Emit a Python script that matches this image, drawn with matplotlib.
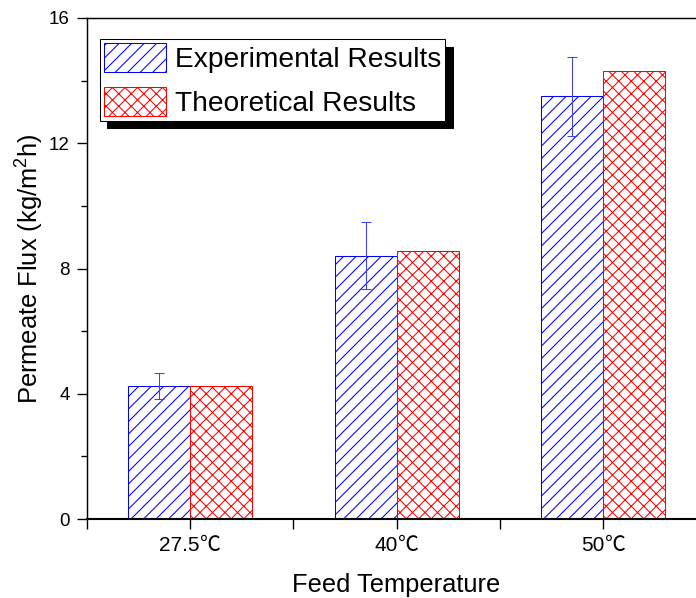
import numpy as np
import matplotlib
matplotlib.use('Agg')
import matplotlib.pyplot as plt
from matplotlib.ticker import MultipleLocator, FixedLocator, NullFormatter
from matplotlib.offsetbox import TextArea, HPacker, AnnotationBbox

plt.rcParams['font.family'] = ['Liberation Sans']
plt.rcParams['mathtext.fontset'] = 'custom'
plt.rcParams['mathtext.rm'] = 'Liberation Sans'
plt.rcParams['hatch.linewidth'] = 1.0

# data
temps = ['27.5', '40', '50']
unit = '℃'
experimental = [4.25, 8.4, 13.5]
exp_err = [0.42, 1.07, 1.26]
theoretical = [4.25, 8.55, 14.3]

DPI = 75
fig = plt.figure(figsize=(696 / DPI, 598 / DPI), dpi=DPI)
ax = fig.add_axes([0.1246, 0.1321, 0.8909, 0.8378])

x = np.arange(1, len(temps) + 1)
w = 0.3

ax.bar(x - w / 2, experimental, w, facecolor='white', edgecolor='#0000ff',
       hatch='//', linewidth=1.0, label='Experimental Results', zorder=2)
ax.bar(x + w / 2, theoretical, w, facecolor='white', edgecolor='#ff0000',
       hatch='xx', linewidth=1.0, label='Theoretical Results', zorder=2)
ax.errorbar(x - w / 2, experimental, yerr=exp_err, fmt='none', ecolor='#4040ff',
            elinewidth=1.0, capsize=4.8, capthick=1.0, zorder=3)

ax.set_xlim(0.5, 3.5)
ax.set_ylim(0, 16)
ax.set_xticks(x)
ax.xaxis.set_major_formatter(NullFormatter())
ax.xaxis.set_minor_locator(FixedLocator([0.5, 1.5, 2.5, 3.5]))
ax.yaxis.set_major_locator(MultipleLocator(4))
ax.yaxis.set_minor_locator(MultipleLocator(2))

ax.tick_params(axis='y', which='major', direction='out', length=9.5, width=1.3,
               labelsize=18, pad=7)
ax.tick_params(axis='x', which='major', direction='out', length=9.5, width=1.3)
ax.tick_params(axis='y', which='minor', direction='out', length=5.8, width=1.3)
ax.tick_params(axis='x', which='minor', direction='out', length=9.5, width=1.3)

# x tick labels: number in Liberation Sans, degree sign from a CJK font
for xi, t in zip(x, temps):
    num = TextArea(t, textprops=dict(size=20, family='Liberation Sans'))
    deg = TextArea(unit, textprops=dict(size=20, family='Noto Sans CJK SC'))
    box = HPacker(children=[num, deg], pad=0, sep=0, align='baseline')
    ab = AnnotationBbox(box, (xi, 0), xycoords=('data', 'axes fraction'),
                        xybox=(0, -14), boxcoords='offset points',
                        box_alignment=(0.5, 1), frameon=False,
                        annotation_clip=False)
    ax.add_artist(ab)

for s in ['left', 'top', 'right']:
    ax.spines[s].set_linewidth(1.4)
ax.spines['bottom'].set_linewidth(2.0)

ax.set_xlabel('Feed Temperature', fontsize=24.5)
ax.set_ylabel('Permeate Flux (kg/m$^2$h)', fontsize=24.5)
ax.xaxis.set_label_coords(0.4988, -0.108)
ax.yaxis.set_label_coords(-0.068, 0.5)

leg = ax.legend(loc='upper left', bbox_to_anchor=(0.0214, 0.958), borderaxespad=0,
                fontsize=27, handlelength=2.2, handleheight=1.2,
                handletextpad=0.33, labelspacing=0.5, borderpad=0.14,
                fancybox=False, framealpha=1, edgecolor='black',
                shadow={'ox': 7.2, 'oy': -7.2, 'color': 'black', 'alpha': 1})
leg.get_frame().set_linewidth(1.0)

fig.savefig('out.png', dpi=DPI)
